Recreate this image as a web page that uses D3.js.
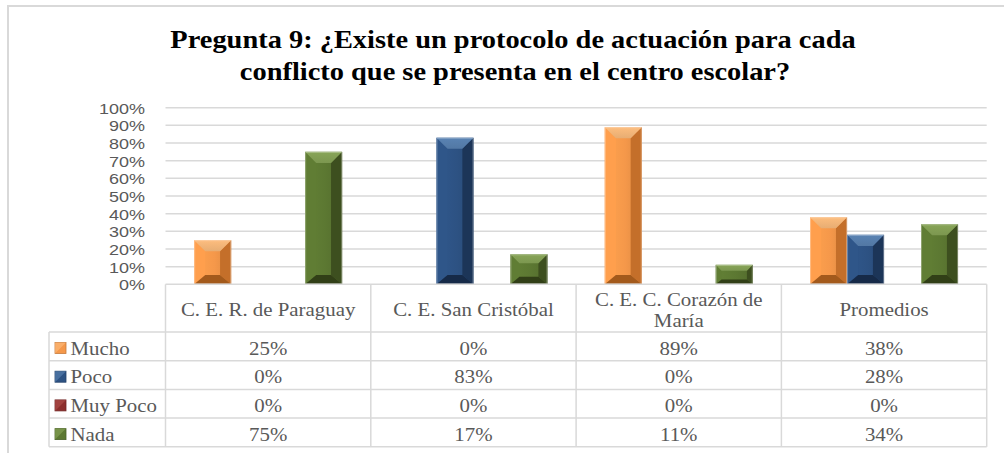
<!DOCTYPE html>
<html>
<head>
<meta charset="utf-8">
<script src="https://cdn.jsdelivr.net/npm/d3@7"></script>
<style>
  body { margin: 0; background: #fff; }
  svg { display: block; }
</style>
</head>
<body>
<div id="chart"></div>
<script>
// data
var categories = ["C. E. R. de Paraguay", "C. E. San Cristóbal", "C. E. C. Corazón de María", "Promedios"];
var headerLines = [["C. E. R. de Paraguay"], ["C. E. San Cristóbal"], ["C. E. C. Corazón de", "María"], ["Promedios"]];
var seriesNames = ["Mucho", "Poco", "Muy Poco", "Nada"];
var mucho = [0.25, 0, 0.89, 0.38];
var poco = [0, 0.83, 0, 0.28];
var muyPoco = [0, 0, 0, 0];
var nada = [0.75, 0.17, 0.11, 0.34];
var yTicks = [0, 0.1, 0.2, 0.3, 0.4, 0.5, 0.6, 0.7, 0.8, 0.9, 1];

var seriesValues = [mucho, poco, muyPoco, nada];
var palette = {
  "Mucho":    {base: "#F5984A", light: "#FDBD7E", dark: "#A35A1C", side: "#C46F2A"},
  "Poco":     {base: "#2D5283", light: "#5A83B3", dark: "#162A48", side: "#1C3558"},
  "Muy Poco": {base: "#8C2E2C", light: "#B0504C", dark: "#5A1A19", side: "#6E2220"},
  "Nada":     {base: "#5C7832", light: "#88A558", dark: "#313F17", side: "#3D4F1F"}
};

var width = 1004, height = 453;
var plot = {left: 165.5, right: 986.7, top: 107.7, bottom: 284.3};
var rowH = 28.7, headerBottom = 332, legendLeft = 49;
var stretch = 1.16; // the reference text is a bit wider than the fonts here

var svg = d3.select("#chart").append("svg")
  .attr("width", width).attr("height", height);

// text helper: puts a horizontally stretched text at (x, y)
function label(parent, x, y, str, anchor, font, size, weight, color) {
  return parent.append("text")
    .attr("transform", "translate(" + x + "," + y + ") scale(" + stretch + ",1)")
    .attr("text-anchor", anchor)
    .style("font-family", font).style("font-size", size + "px")
    .style("font-weight", weight || "normal")
    .attr("fill", color || "#595959")
    .text(str);
}

// outer frame (only top and left visible)
svg.append("path")
  .attr("d", "M8,460 L8,6 L1010,6")
  .attr("fill", "none").attr("stroke", "#d9d9d9").attr("stroke-width", 2);

// title
var serif = "'Liberation Serif', 'Times New Roman', serif";
label(svg, 513, 48, "Pregunta 9: ¿Existe un protocolo de actuación para cada", "middle", serif, 24.5, "bold", "#000");
label(svg, 515, 80, "conflicto que se presenta en el centro escolar?", "middle", serif, 24.5, "bold", "#000");

var x0 = d3.scaleBand().domain(categories).range([plot.left, plot.right]).padding(0);
var x1 = d3.scaleBand().domain(seriesNames).range([0, x0.bandwidth()]).paddingInner(0).paddingOuter(0.775);
var y = d3.scaleLinear().domain([0, 1]).range([plot.bottom, plot.top]);

// gridlines
svg.append("g").selectAll("line")
  .data(yTicks.filter(d => d > 0))
  .enter().append("line")
  .attr("x1", plot.left).attr("x2", plot.right)
  .attr("y1", d => y(d)).attr("y2", d => y(d))
  .attr("stroke", "#d9d9d9").attr("stroke-width", 1.5);

// y axis
var yAxis = d3.axisLeft(y).tickValues(yTicks).tickFormat(d3.format(".0%")).tickSize(0).tickPadding(0);
var gy = svg.append("g").attr("transform", "translate(145,0)").call(yAxis);
gy.select(".domain").remove();
gy.selectAll("text")
  .attr("x", null).attr("dy", null)
  .attr("transform", "translate(0,5.5) scale(" + stretch + ",1)")
  .style("font-family", "'Liberation Sans', Arial, sans-serif")
  .style("font-size", "15.5px")
  .attr("fill", "#595959");

// bevelled bars
var defs = svg.append("defs");
seriesNames.forEach(function(s, i) {
  var c = palette[s];
  var g = defs.append("linearGradient").attr("id", "face" + i)
    .attr("x1", "0").attr("x2", "1").attr("y1", "0").attr("y2", "0");
  g.append("stop").attr("offset", "0").attr("stop-color", d3.color(c.base).brighter(0.2));
  g.append("stop").attr("offset", "0.55").attr("stop-color", c.base);
  g.append("stop").attr("offset", "1").attr("stop-color", d3.color(c.base).darker(0.3));
  var t = defs.append("linearGradient").attr("id", "top" + i)
    .attr("x1", "0").attr("x2", "0").attr("y1", "0").attr("y2", "1");
  t.append("stop").attr("offset", "0").attr("stop-color", c.light);
  t.append("stop").attr("offset", "1").attr("stop-color", d3.color(c.light).darker(0.25));
});

var bars = [];
categories.forEach(function(cat, ci) {
  seriesNames.forEach(function(s, si) {
    bars.push({cat: cat, series: s, si: si, value: seriesValues[si][ci]});
  });
});

var pts = function(arr) { return arr.map(p => p.join(",")).join(" "); };

svg.append("g").selectAll("g")
  .data(bars.filter(d => d.value > 0))
  .enter().append("g")
  .each(function(d) {
    var g = d3.select(this);
    var c = palette[d.series];
    var bx = x0(d.cat) + x1(d.series), bw = x1.bandwidth();
    var by = y(d.value), bh = plot.bottom - by;
    var b = Math.min(bw * 0.3, bh * 0.3);
    var bb = Math.min(bw * 0.25, bh * 0.25);
    g.append("rect").attr("x", bx).attr("y", by).attr("width", bw).attr("height", bh)
      .attr("fill", "url(#face" + d.si + ")");
    // left bevel
    g.append("polygon").attr("points", pts([[bx, by], [bx + b, by + b], [bx + b, by + bh - bb], [bx, by + bh]]))
      .attr("fill", d3.color(c.base).brighter(0.12));
    // right bevel
    g.append("polygon").attr("points", pts([[bx + bw, by], [bx + bw - b, by + b], [bx + bw - b, by + bh - bb], [bx + bw, by + bh]]))
      .attr("fill", c.side);
    // top bevel
    g.append("polygon").attr("points", pts([[bx, by], [bx + bw, by], [bx + bw - b, by + b], [bx + b, by + b]]))
      .attr("fill", "url(#top" + d.si + ")");
    // bottom bevel
    g.append("polygon").attr("points", pts([[bx, by + bh], [bx + bw, by + bh], [bx + bw - b, by + bh - bb], [bx + b, by + bh - bb]]))
      .attr("fill", c.dark);
    g.append("rect").attr("x", bx + 0.5).attr("y", by + 0.5).attr("width", bw - 1).attr("height", bh - 1)
      .attr("fill", "none").attr("stroke", "#ffffff").attr("stroke-opacity", 0.3).attr("stroke-width", 1);
  });

// data table
var gridColor = "#d9d9d9";
var tbl = svg.append("g");
var tableBottom = headerBottom + rowH * seriesNames.length;

tbl.append("line").attr("x1", plot.left).attr("x2", plot.right).attr("y1", plot.bottom).attr("y2", plot.bottom)
  .attr("stroke", gridColor).attr("stroke-width", 1.5);
d3.range(seriesNames.length + 1).forEach(function(r) {
  var yy = headerBottom + r * rowH;
  tbl.append("line").attr("x1", legendLeft).attr("x2", plot.right).attr("y1", yy).attr("y2", yy)
    .attr("stroke", gridColor).attr("stroke-width", 1.5);
});
tbl.append("line").attr("x1", legendLeft).attr("x2", legendLeft).attr("y1", headerBottom).attr("y2", tableBottom)
  .attr("stroke", gridColor).attr("stroke-width", 1.5);
categories.concat([null]).forEach(function(cat) {
  var xx = cat ? x0(cat) : plot.right;
  tbl.append("line").attr("x1", xx).attr("x2", xx).attr("y1", plot.bottom).attr("y2", tableBottom)
    .attr("stroke", gridColor).attr("stroke-width", 1.5);
});

// header labels
categories.forEach(function(cat, i) {
  var lines = headerLines[i];
  var cx = x0(cat) + x0.bandwidth() / 2;
  var base = lines.length === 1 ? 316 : 306;
  lines.forEach(function(l, li) {
    label(tbl, cx, base + li * 20.5, l, "middle", serif, 18, "normal");
  });
});

// rows
var pct = d3.format(".0%");
seriesNames.forEach(function(s, si) {
  var top = headerBottom + si * rowH;
  var c = palette[s];
  tbl.append("rect").attr("x", 55).attr("y", top + 10.5).attr("width", 11).attr("height", 11)
    .attr("fill", c.base).attr("stroke", d3.color(c.base).darker(0.6)).attr("stroke-width", 0.8);
  tbl.append("polygon")
    .attr("points", pts([[55, top + 10.5], [66, top + 10.5], [55, top + 21.5]]))
    .attr("fill", c.light).attr("opacity", 0.6);
  label(tbl, 70.5, top + 22.5, s, "start", serif, 18, "normal");
  categories.forEach(function(cat, ci) {
    label(tbl, x0(cat) + x0.bandwidth() / 2, top + 22.5, pct(seriesValues[si][ci]), "middle", serif, 18, "normal");
  });
});
</script>
</body>
</html>
